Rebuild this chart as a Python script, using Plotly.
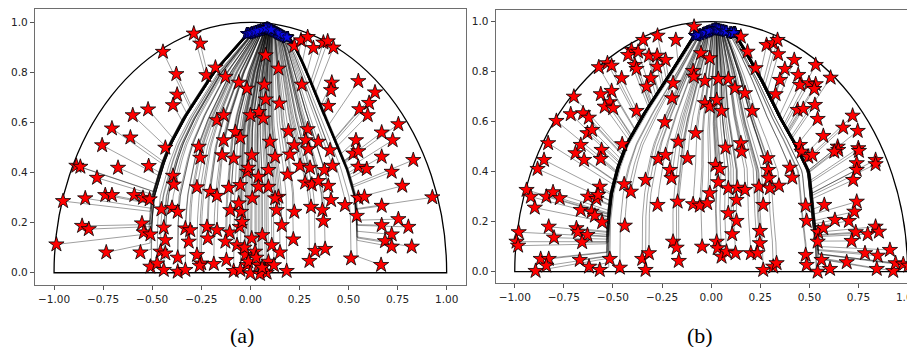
import numpy as np
import plotly.graph_objects as go

# ---------------- data ----------------
# Panel (a): red start stars
A_X = [-0.288, -0.255, -0.445, -0.377, -0.224, -0.178, -0.127, -0.373, -0.394, -0.521, -0.599, -0.705,
       -0.611, -0.755, -0.433, -0.263, -0.059, -0.017, -0.17, -0.136, -0.076, -0.051, -0.136, 0.0,
       0.078, 0.143, 0.224, 0.258, 0.292, 0.321, 0.372, 0.394, 0.423, 0.071, 0.262, 0.415, 0.411, 0.55,
       0.635, 0.605, 0.555, 0.598, 0.397, 0.078, 0.148, 0.044, 0.066, 0.194, 0.292, 0.282, 0.224, 0.346,
       0.1, 0.754, 0.669, 0.725, 0.538,
       -0.886, -0.866, -0.674, -0.518, -0.781, -0.394, -0.39, -0.272, -0.954, -0.841, -0.739, -0.705,
       -0.591, -0.547, -0.513, -0.453, -0.399, -0.37, -0.204, -0.17, -0.11, -0.051, -0.017, -0.144,
       -0.085, -0.255, -0.102, -0.047, -0.857, -0.823, -0.552, -0.543, -0.509, -0.441, -0.433, -0.331,
       -0.306, -0.314, -0.221, -0.17, -0.217, -0.105, -0.054, -0.988, -0.734, -0.56, -0.458, -0.433,
       -0.37, -0.272, -0.25, -0.186, -0.122, -0.509, -0.475, -0.441, -0.37, -0.331, -0.258, -0.085,
       -0.051, -0.025, -0.017, -0.059, -0.042, -0.068, -0.127,
       0.007, 0.202, 0.295, 0.406, 0.525, 0.55, 0.669, 0.83, 0.55, 0.593, 0.72, 0.774, 0.927, 0.253,
       0.304, 0.377, 0.418, 0.19, 0.092, 0.041, -0.01, 0.279, 0.313, 0.346, 0.397, 0.092, 0.041, 0.143,
       0.01, 0.134, 0.224, 0.309, 0.367, 0.411, 0.482, 0.372, 0.55, 0.581, 0.669, 0.542, 0.669, 0.754,
       0.805, 0.72, 0.686, 0.72, 0.822, 0.513, 0.666, 0.16, 0.219, 0.33, 0.381, 0.301, 0.185, 0.061,
       0.109, 0.151, 0.007, 0.024, 0.092, 0.041, -0.01, 0.075, 0.0, 0.126, 0.126, 0.083, 0.049, 0.03,
       0.06, -0.03, 0.12]
A_Y = [0.955, 0.915, 0.882, 0.793, 0.789, 0.819, 0.782, 0.711, 0.669, 0.652, 0.629, 0.576,
       0.54, 0.509, 0.499, 0.503, 0.759, 0.735, 0.609, 0.629, 0.562, 0.539, 0.529, 0.629,
       0.868, 0.815, 0.905, 0.928, 0.941, 0.897, 0.919, 0.924, 0.899, 0.751, 0.751, 0.759, 0.729, 0.765,
       0.72, 0.678, 0.653, 0.629, 0.666, 0.692, 0.676, 0.642, 0.616, 0.565, 0.573, 0.529, 0.509, 0.523,
       0.523, 0.593, 0.56, 0.529, 0.529,
       0.427, 0.423, 0.419, 0.426, 0.379, 0.387, 0.352, 0.341, 0.286, 0.297, 0.31, 0.31,
       0.31, 0.299, 0.293, 0.253, 0.259, 0.243, 0.323, 0.307, 0.339, 0.35, 0.403, 0.469,
       0.456, 0.459, 0.25, 0.243, 0.187, 0.174, 0.197, 0.161, 0.153, 0.18, 0.13, 0.177,
       0.17, 0.124, 0.183, 0.17, 0.137, 0.161, 0.183, 0.113, 0.081, 0.081, 0.084, 0.077,
       0.06, 0.071, 0.037, 0.035, 0.051, 0.024, 0.037, 0.011, 0.004, 0.011, 0.028, 0.007,
       0.011, 0.071, 0.031, 0.277, 0.203, 0.11, 0.124,
       0.469, 0.472, 0.493, 0.489, 0.476, 0.485, 0.463, 0.45, 0.423, 0.414, 0.403, 0.347, 0.301, 0.427,
       0.419, 0.41, 0.427, 0.392, 0.41, 0.383, 0.419, 0.36, 0.352, 0.366, 0.347, 0.343, 0.343, 0.303,
       0.297, 0.25, 0.243, 0.263, 0.25, 0.29, 0.27, 0.206, 0.299, 0.303, 0.267, 0.227, 0.19, 0.214,
       0.183, 0.153, 0.126, 0.104, 0.104, 0.057, 0.031, 0.19, 0.133, 0.087, 0.095, 0.047, 0.007, 0.15,
       0.11, 0.081, 0.137, 0.084, 0.044, 0.031, 0.044, 0.004, -0.002, 0.463, 0.297, 0.0, -0.005, 0.06,
       0.02, 0.1, 0.03]

# Panel (b): red start stars
B_X = [-0.087, -0.273, -0.18, -0.346, -0.406, -0.423, -0.372, -0.317, -0.275, -0.232, -0.275, -0.389,
       -0.38, -0.572, -0.528, -0.507, -0.456, -0.307, -0.329, -0.194, -0.699, -0.562, -0.507, -0.516,
       -0.542, -0.499, -0.199, -0.715, -0.652, -0.623, -0.788, -0.63, -0.606, -0.38, -0.236, -0.079,
       -0.168, -0.83, -0.664, -0.453, -0.092, -0.088, -0.052, -0.007, -0.032, -0.032, -0.007,
       0.151, 0.282, 0.316, 0.338, 0.185, 0.341, 0.423, 0.532, 0.226, 0.375, 0.608, 0.443, 0.35, 0.452,
       0.498, 0.532, 0.525, 0.087, 0.036, 0.121, 0.172, 0.328, 0.028, 0.053, 0.209, 0.44, 0.469, 0.528,
       0.542, 0.72, 0.672, 0.746, 0.571, 0.644, 0.749, 0.073, 0.151, 0.452,
       -0.851, -0.884, -0.691, -0.647, -0.558, -0.562, -0.94, -0.918, -0.898, -0.839, -0.805, -0.771,
       -0.627, -0.584, -0.567, -0.576, -0.664, -0.609, -0.592, -0.555, -0.443, -0.409, -0.334, -0.44,
       -0.98, -0.991, -0.983, -0.827, -0.8, -0.686, -0.678, -0.63, -0.657, -0.868, -0.827, -0.839,
       -0.894, -0.669, -0.622, -0.567, -0.516, -0.465, -0.351, -0.317, -0.334, -0.27, -0.232, -0.12,
       -0.21, -0.202, -0.273, -0.171, -0.092, -0.058, -0.02, -0.194, -0.176, -0.165, -0.046,
       0.155, 0.287, 0.401, 0.413, 0.29, 0.294, 0.022, 0.044, 0.036, 0.087, 0.134, 0.172, 0.243, 0.299,
       0.345, -0.007, 0.129, 0.265, 0.087, 0.129, 0.107, 0.248, 0.248, 0.028, 0.033, 0.053, 0.078, 0.124,
       0.202, 0.236, 0.265, 0.316, 0.333, 0.481, 0.486, 0.576, 0.63, 0.701, 0.729, 0.741, 0.545, 0.571,
       0.542, 0.736, 0.715, 0.797, 0.837, 0.854, 0.481, 0.486, 0.542, 0.562, 0.605, 0.69, 0.783, 0.848,
       0.91, 0.843, 0.927, 0.939, 0.978, 1.004, 0.752, 0.647, 0.627, 0.741, 0.741, 0.723, 0.837, 0.837,
       0.46, 0.494, 0.515]
B_Y = [0.98, 0.944, 0.927, 0.927, 0.887, 0.867, 0.88, 0.864, 0.864, 0.847, 0.82, 0.827,
       0.811, 0.818, 0.834, 0.824, 0.774, 0.774, 0.74, 0.754, 0.7, 0.71, 0.723, 0.678,
       0.66, 0.654, 0.694, 0.63, 0.634, 0.616, 0.603, 0.554, 0.567, 0.643, 0.598, 0.554,
       0.52, 0.514, 0.507, 0.51, 0.803, 0.78, 0.874, 0.854, 0.763, 0.674, 0.66,
       0.94, 0.907, 0.914, 0.927, 0.88, 0.87, 0.847, 0.827, 0.814, 0.811, 0.776, 0.787, 0.767, 0.747,
       0.754, 0.75, 0.731, 0.771, 0.771, 0.734, 0.714, 0.71, 0.687, 0.643, 0.643, 0.647, 0.651, 0.667,
       0.611, 0.624, 0.576, 0.563, 0.543, 0.5, 0.494, 0.496, 0.514, 0.507,
       0.447, 0.411, 0.474, 0.447, 0.487, 0.451, 0.327, 0.3, 0.256, 0.3, 0.318, 0.294,
       0.3, 0.291, 0.34, 0.307, 0.247, 0.24, 0.224, 0.198, 0.35, 0.32, 0.367, 0.184,
       0.158, 0.12, 0.104, 0.18, 0.136, 0.174, 0.158, 0.147, 0.118, 0.051, 0.051, 0.024,
       0.003, 0.047, 0.02, 0.007, 0.051, 0.016, 0.051, 0.074, 0.007, 0.451, 0.467, 0.454,
       0.407, 0.374, 0.267, 0.28, 0.27, 0.264, 0.274, 0.12, 0.096, 0.043, 0.1,
       0.48, 0.454, 0.416, 0.376, 0.407, 0.374, 0.427, 0.411, 0.358, 0.334, 0.336, 0.327, 0.34, 0.334,
       0.344, 0.314, 0.287, 0.267, 0.234, 0.203, 0.15, 0.163, 0.114, 0.12, 0.094, 0.06, 0.08, 0.074,
       0.074, 0.074, 0.007, 0.02, 0.034, 0.264, 0.203, 0.267, 0.207, 0.203, 0.24, 0.28, 0.158, 0.174,
       0.12, 0.158, 0.123, 0.15, 0.18, 0.16, 0.067, 0.027, 0.0, 0.047, 0.011, 0.038, 0.074, 0.064,
       0.087, 0.011, 0.003, 0.034, 0.03, 0.024, 0.483, 0.487, 0.48, 0.434, 0.407, 0.367, 0.447, 0.43,
       0.48, 0.46, 0.467]

# Funnel edges that the trajectories follow
EDGE_Y = [0.0, 0.1, 0.2, 0.3, 0.4, 0.5, 0.6, 0.7, 0.8, 0.9, 0.95]
LEFT_X_A = [-0.50, -0.50, -0.497, -0.485, -0.45, -0.405, -0.34, -0.26, -0.175, -0.065, -0.005]
RIGHT_X_A = [0.535, 0.535, 0.533, 0.525, 0.49, 0.437, 0.38, 0.33, 0.279, 0.22, 0.18]
LEFT_X_B = [-0.516, -0.516, -0.512, -0.50, -0.47, -0.425, -0.355, -0.275, -0.19, -0.11, -0.07]
RIGHT_X_B = [0.53, 0.528, 0.51, 0.50, 0.485, 0.425, 0.35, 0.29, 0.223, 0.15, 0.11]
# Height of the blue end cluster across its width (left, middle, right)
ARCH_F = [0.0, 0.5, 1.0]
ARCH_Y_A = [0.955, 0.978, 0.94]
ARCH_Y_B = [0.945, 0.972, 0.955]
# Point the outer trajectories head for before joining the funnel
ATTRACT_A = (0.02, 0.2)
ATTRACT_B = (0.0, 0.12)

X_TICKS = [-1.0, -0.75, -0.5, -0.25, 0.0, 0.25, 0.5, 0.75, 1.0]
X_TICK_TEXT = ["\u22121.00", "\u22120.75", "\u22120.50", "\u22120.25", "0.00", "0.25", "0.50", "0.75", "1.00"]
Y_TICKS = [0.0, 0.2, 0.4, 0.6, 0.8, 1.0]
Y_TICK_TEXT = ["0.0", "0.2", "0.4", "0.6", "0.8", "1.0"]
CAPTIONS = ["(a)", "(b)"]


def trajectories(xs, ys, ey, lx, rx, arch_y, attractor):
    ey = np.asarray(ey, float)
    lx = np.asarray(lx, float)
    rx = np.asarray(rx, float)
    lines_x, lines_y, end_x, end_y = [], [], [], []
    for x0, y0 in zip(xs, ys):
        L = np.interp(y0, ey, lx)
        R = np.interp(y0, ey, rx)
        pts_x, pts_y = [x0], [y0]
        if L <= x0 <= R:
            f = (x0 - L) / (R - L)
            shift = 0.0
            ystart = y0
        else:
            t = np.linspace(0, 1, 400)
            px = x0 + t * (attractor[0] - x0)
            py = y0 + t * (attractor[1] - y0)
            inside = (px >= np.interp(py, ey, lx)) & (px <= np.interp(py, ey, rx))
            k = int(np.argmax(inside))
            hx, hy = px[k], py[k]
            d = np.hypot((hx - x0) * 196, (hy - y0) * 250)
            s = 0.004 + 0.028 * min(1.0, d / 180.0)
            if x0 < L:
                f, shift = 0.0, -s
            else:
                f, shift = 1.0, s
            ystart = hy
        yy = np.linspace(ystart, ey[-1], 45)
        lyy = np.interp(yy, ey, lx)
        ryy = np.interp(yy, ey, rx)
        xx = lyy + f * (ryy - lyy) + shift
        xe = lx[-1] + f * (rx[-1] - lx[-1]) + shift * 0.8
        ye = np.interp(f, ARCH_F, arch_y)
        pts_x += list(xx) + [xe]
        pts_y += list(yy) + [ye]
        lines_x += pts_x + [None]
        lines_y += pts_y + [None]
        end_x.append(xe)
        end_y.append(ye)
    return lines_x, lines_y, end_x, end_y


fig = go.Figure()
panels = [
    (A_X, A_Y, LEFT_X_A, RIGHT_X_A, ARCH_Y_A, ATTRACT_A, "x", "y"),
    (B_X, B_Y, LEFT_X_B, RIGHT_X_B, ARCH_Y_B, ATTRACT_B, "x2", "y2"),
]
for xs, ys, lx, rx, ay, att, xa, ya in panels:
    lxs, lys, ex, eyy = trajectories(xs, ys, EDGE_Y, lx, rx, ay, att)
    fig.add_trace(go.Scatter(x=lxs, y=lys, mode="lines", xaxis=xa, yaxis=ya,
                             line=dict(color="rgba(0,0,0,0.5)", width=0.75),
                             hoverinfo="skip", showlegend=False))
    fig.add_trace(go.Scatter(x=ex, y=eyy, mode="markers", xaxis=xa, yaxis=ya,
                             marker=dict(symbol="star", size=9, color="#0a0ae6",
                                         line=dict(color="black", width=0.5)),
                             hoverinfo="skip", showlegend=False))
    fig.add_trace(go.Scatter(x=xs, y=ys, mode="markers", xaxis=xa, yaxis=ya,
                             marker=dict(symbol="star", size=11.5, color="#ff0000",
                                         line=dict(color="black", width=0.8)),
                             hoverinfo="skip", showlegend=False))
    # semicircular domain boundary
    fig.add_shape(type="path", xref=xa, yref=ya, layer="below",
                  path="M -1 0 C -1 0.5523 -0.5523 1 0 1 C 0.5523 1 1 0.5523 1 0 Z",
                  line=dict(color="black", width=1.3))

axis_common = dict(showgrid=False, zeroline=False, showline=True, linecolor="#6e6e6e", linewidth=1.2,
                   ticks="outside", ticklen=4, tickwidth=1, tickcolor="#555", automargin=False,
                   tickfont=dict(family="DejaVu Sans", size=10.5, color="#222"))

# the page body adds an 8 px margin, so the figure is 8 px smaller and all positions shift by 8 px
W, H, OFF = 907, 339, 8


def px_x(p):
    return (p - OFF) / W


def px_y(p):
    return 1 - (p - OFF) / H


fig.update_layout(
    width=W, height=H, margin=dict(l=0, r=0, t=0, b=0, autoexpand=False),
    paper_bgcolor="white", plot_bgcolor="white", showlegend=False,
    xaxis=dict(domain=[px_x(35), px_x(465.7)], range=[-1.097, 1.097], anchor="y", mirror=True,
               tickvals=X_TICKS, ticktext=X_TICK_TEXT, **axis_common),
    yaxis=dict(domain=[px_y(285), px_y(8.6)], range=[-0.049, 1.0547], anchor="x", mirror=True,
               tickvals=Y_TICKS, ticktext=Y_TICK_TEXT, **axis_common),
    xaxis2=dict(domain=[px_x(495.7), 1.0], range=[-1.097, 1.0377], anchor="y2", mirror=True,
                tickvals=X_TICKS, ticktext=X_TICK_TEXT, ticklabeloverflow="allow", **axis_common),
    yaxis2=dict(domain=[px_y(283.3), px_y(9.7)], range=[-0.0464, 1.048], anchor="x2", mirror=False,
                tickvals=Y_TICKS, ticktext=Y_TICK_TEXT, **axis_common),
)

for txt, xp in zip(CAPTIONS, [242, 700]):
    fig.add_annotation(text=txt, x=px_x(xp), y=px_y(335), xref="paper", yref="paper",
                       showarrow=False, xanchor="center", yanchor="middle",
                       font=dict(family="Liberation Serif", size=22, color="black"))

fig.write_html("out.html")
